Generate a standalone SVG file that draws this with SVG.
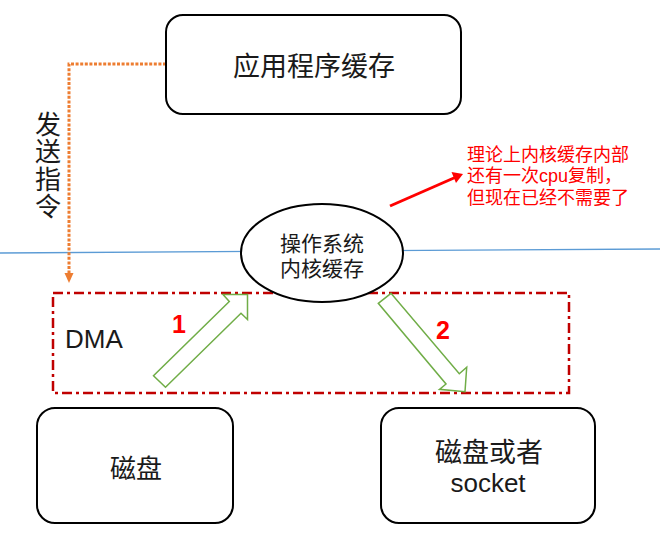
<svg xmlns="http://www.w3.org/2000/svg" width="660" height="538" viewBox="0 0 660 538">
<style>
.box{fill:#fff;stroke:#000;stroke-width:2}
.t{font-family:"Noto Sans CJK SC","Liberation Sans",sans-serif;fill:#1a1a1a;text-anchor:middle}
.tl{font-family:"Liberation Sans","Noto Sans CJK SC",sans-serif;fill:#1a1a1a;text-anchor:middle}
.lat{font-family:"Liberation Sans","Noto Sans CJK SC",sans-serif;fill:#1a1a1a}
.red{font-family:"Liberation Sans","Noto Sans CJK SC",sans-serif;fill:#ff0000;font-size:18px}
.num{font-family:"Liberation Sans",sans-serif;fill:#ff0000;font-weight:bold;font-size:25px;text-anchor:middle}
.green{fill:#fff;stroke:#70ad47;stroke-width:1.5;stroke-linejoin:miter}
</style>
<rect width="660" height="538" fill="#fff"/>
<g id="connectors">
  <line x1="0" y1="253" x2="660" y2="249" stroke="#5b9bd5" stroke-width="1.3"/>
  <path d="M166,64 H69 V274" fill="none" stroke="#ed7d31" stroke-width="3" stroke-dasharray="3 1.6"/>
  <polygon points="64.5,273 73.5,273 69,283" fill="#ed7d31"/>
  <line x1="390" y1="206" x2="455" y2="177.5" stroke="#ff0000" stroke-width="3"/>
  <polygon points="463,174 451.5,172 456,183" fill="#ff0000"/>
</g>
<g id="dma">
  <rect x="53" y="293" width="516" height="100" fill="none" stroke="#c00000" stroke-width="2.5" stroke-dasharray="10 4 3 4"/>
  <text class="lat" x="65" y="348" font-size="26">DMA</text>
</g>
<g id="app">
  <rect class="box" x="166" y="15" width="295" height="99" rx="17"/>
  <text class="t" x="314" y="76" font-size="27">应用程序缓存</text>
</g>
<g id="send-label">
  <text x="48" y="111" font-family="Noto Sans CJK SC, Liberation Sans, sans-serif" font-size="26" fill="#1a1a1a" writing-mode="vertical-rl" letter-spacing="1.5">发送指令</text>
</g>
<g id="kernel">
  <ellipse cx="322" cy="253" rx="81" ry="49" fill="#fff" stroke="#000" stroke-width="2"/>
  <text class="tl" font-size="21"><tspan x="322" y="250.5">操作系统</tspan><tspan x="322" y="275.5">内核缓存</tspan></text>
</g>
<g id="note">
  <text class="red"><tspan x="467" y="160.5">理论上内核缓存内部</tspan><tspan x="467" y="182">还有一次cpu复制，</tspan><tspan x="467" y="203.5">但现在已经不需要了</tspan></text>
</g>
<g id="arrow1">
  <polygon class="green" points="165.5,387.3 153.5,375.7 229.3,301.5 223,294.5 247.5,294.5 247.5,319.5 241,313.3"/>
  <text class="num" x="179" y="333">1</text>
</g>
<g id="arrow2">
  <polygon class="green" points="378.3,303.3 391,293.3 459.3,373.8 466.7,367.3 465,391.7 439.5,389.3 446,384"/>
  <text class="num" x="443" y="339">2</text>
</g>
<g id="disk">
  <rect class="box" x="37" y="408" width="196" height="115" rx="18"/>
  <text class="t" x="136" y="478" font-size="26">磁盘</text>
</g>
<g id="socket">
  <rect class="box" x="381" y="408" width="214" height="115" rx="18"/>
  <text class="tl" x="489" y="462" font-size="27">磁盘或者</text>
  <text class="lat" x="488" y="492" font-size="26" text-anchor="middle">socket</text>
</g>
</svg>
